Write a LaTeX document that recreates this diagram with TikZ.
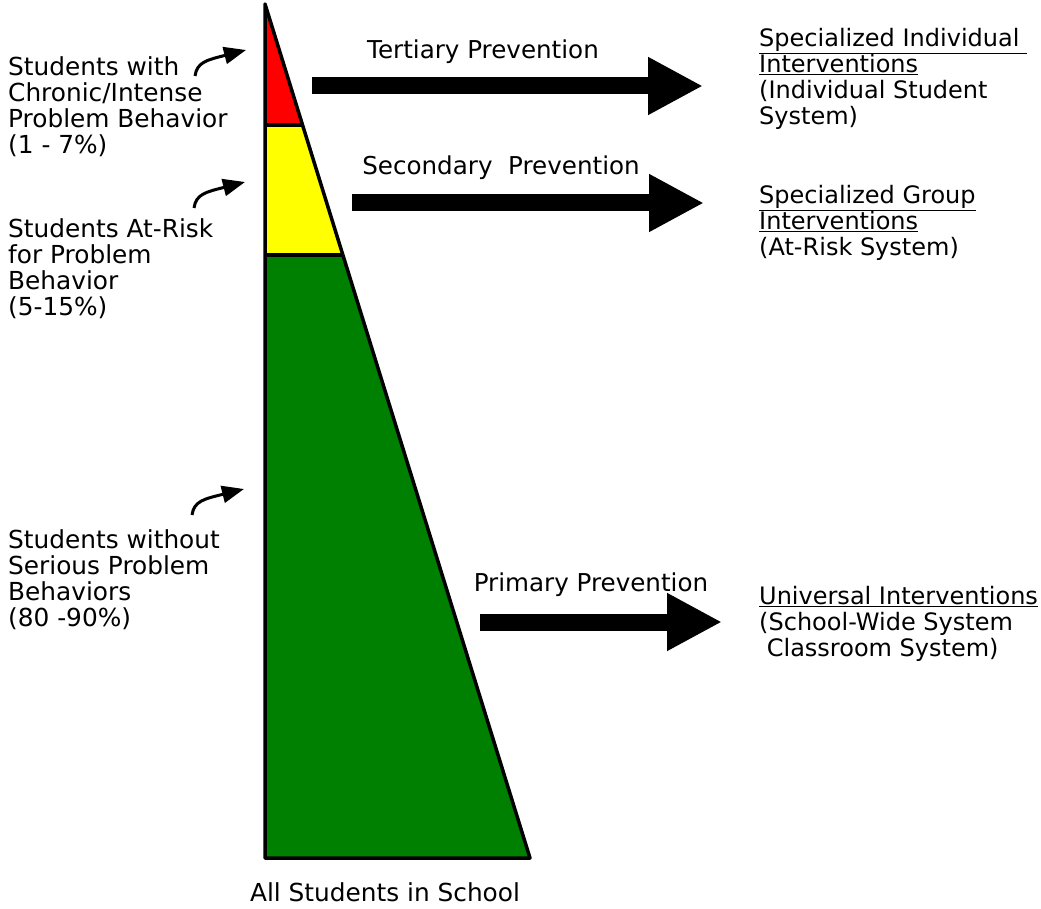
\documentclass[tikz,border=0pt]{standalone}
\usepackage{fontspec}
\setmainfont{DejaVu Sans}
\usetikzlibrary{arrows.meta,calc}
\definecolor{TierRed}{HTML}{FF0000}
\definecolor{TierYellow}{HTML}{FFFF00}
\definecolor{TierGreen}{HTML}{008000}
\tikzset{
  labeltext/.style={font=\fontsize{24.8}{26}\selectfont, inner sep=0pt, align=left, anchor=north west},
  rightext/.style={labeltext, font=\fontsize{24}{26}\selectfont},
  preventtext/.style={font=\fontsize{24.6}{26}\selectfont, inner sep=0pt, anchor=base},
  bigarrow/.style={line width=17pt, -{Triangle[length=55pt,width=54pt]}},
  smallarrow/.style={line width=3pt, -{Triangle[length=22pt,width=17pt]}}
}

\begin{document}
\begin{tikzpicture}[x=1pt,y=-1pt]
    \useasboundingbox (0,0) rectangle (1041,909);

    % the triangle and its three tiers
    \coordinate (apex) at (265,4);
    \coordinate (baseL) at (265,858);
    \coordinate (baseR) at (530,858);
    \coordinate (cutA) at ($(apex)!0.1417!(baseR)$);
    \coordinate (cutB) at ($(apex)!0.2939!(baseR)$);
    \fill[TierRed] (apex) -- (cutA) -- (apex|-cutA) -- cycle;
    \fill[TierYellow] (apex|-cutA) -- (cutA) -- (cutB) -- (apex|-cutB) -- cycle;
    \fill[TierGreen] (apex|-cutB) -- (cutB) -- (baseR) -- (baseL) -- cycle;
    \draw[line width=3.5pt, line join=round] (apex) -- (baseR) -- (baseL) -- cycle;
    \draw[line width=3.5pt] (apex|-cutA) -- (cutA);
    \draw[line width=3.5pt] (apex|-cutB) -- (cutB);

    % prevention arrows
    \foreach \name/\y/\xs/\xe/\lx/\ly/\txt in
    {tert/86/312/703/483/59/Tertiary Prevention,
     sec/203/352/704/501/175/Secondary~ Prevention,
     prim/622/480/722/591/591/Primary Prevention} {
     \coordinate (\name From) at (\xs,\y);
     \coordinate (\name To) at (\xe,\y);
     \draw[bigarrow] (\name From) -- (\name To);
     \node[preventtext] (\name Label) at (\lx,\ly) {\txt};
    }

    % groups of students
    \node[labeltext] (chronic) at (8,56) {Students with\\Chronic/Intense\\Problem Behavior\\(1 - 7\%)};
    \node[labeltext] (atrisk) at (8,218) {Students At-Risk\\for Problem\\Behavior\\(5-15\%)};
    \node[labeltext] (without) at (8,529) {Students without\\Serious Problem\\Behaviors\\(80 -90\%)};

    \foreach \t/\tx/\ty/\hx/\hy in {A/195/76/246/50, B/194/208/245/182, C/192/515/244/489} {
     \coordinate (tail\t) at (\tx,\ty);
     \coordinate (tip\t) at (\hx,\hy);
     \draw[smallarrow] (tail\t) .. controls ($(tail\t)+(2,-14)$) and ($(tail\t)+(12,-16)$) .. (tip\t);
    }

    % interventions
    \node[rightext] (individual) at (759,28) {\underline{Specialized Individual\ }\\\underline{Interventions}\\(Individual Student\\System)};
    \node[rightext] (group) at (759,185) {\underline{Specialized Group}\\\underline{Interventions}\\(At-Risk System)};
    \node[rightext] (universal) at (759,586) {\underline{Universal Interventions}\\(School-Wide System\\\ Classroom System)};

    \node[preventtext, font=\fontsize{24.8}{26}\selectfont] (allStudents) at (385,901) {All Students in School};
\end{tikzpicture}
\end{document}
